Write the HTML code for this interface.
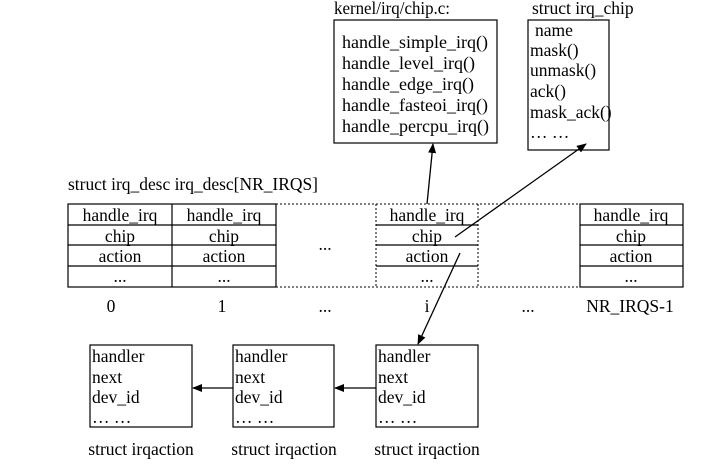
<!DOCTYPE html>
<html><head><style>
body{margin:0;background:#fff;}
svg text{font-family:"Liberation Serif",serif;font-size:17.5px;fill:#000;}
svg text.k{font-size:18px;}
</style></head><body>
<svg width="726" height="467" xmlns="http://www.w3.org/2000/svg">
<defs><marker id="a" markerWidth="10" markerHeight="8" refX="9" refY="4" orient="auto" markerUnits="userSpaceOnUse"><path d="M0,0 L10,4 L0,8 Z" fill="#000"/></marker></defs>
<g fill="none" stroke="#000" stroke-width="1.2">
<rect x="334" y="20" width="163" height="123"/>
<rect x="528" y="20" width="81" height="130"/>
<rect x="68" y="204" width="208" height="83"/>
<line x1="172" y1="204" x2="172" y2="287"/>
<line x1="68" y1="225" x2="276" y2="225"/><line x1="68" y1="245" x2="276" y2="245"/><line x1="68" y1="266" x2="276" y2="266"/>
<rect x="580" y="204" width="103" height="83"/>
<line x1="580" y1="225" x2="683" y2="225"/><line x1="580" y1="245" x2="683" y2="245"/><line x1="580" y1="266" x2="683" y2="266"/>
<line x1="376" y1="225" x2="478" y2="225"/><line x1="376" y1="245" x2="478" y2="245"/><line x1="376" y1="266" x2="478" y2="266"/>
<rect x="90" y="345" width="102" height="82"/>
<rect x="233" y="345" width="101" height="82"/>
<rect x="376" y="345" width="102" height="82"/>
</g>
<g fill="none" stroke="#000" stroke-width="1" stroke-dasharray="2,2">
<line x1="276" y1="204" x2="580" y2="204"/><line x1="276" y1="287" x2="580" y2="287"/>
<line x1="376" y1="204" x2="376" y2="287"/><line x1="478" y1="204" x2="478" y2="287"/>
</g>
<g stroke="#000" stroke-width="1.3" fill="none" marker-end="url(#a)">
<line x1="427" y1="204" x2="433" y2="144"/>
<line x1="455" y1="237" x2="586" y2="144"/>
<line x1="460" y1="253" x2="418" y2="344"/>
<line x1="376" y1="388" x2="335" y2="388"/>
<line x1="233" y1="388" x2="193" y2="388"/>
</g>
<text x="334" y="14" textLength="116" lengthAdjust="spacingAndGlyphs">kernel/irq/chip.c:</text>
<text x="532" y="14">struct irq_chip</text>
<text class="k" x="342" y="48">handle_simple_irq()</text>
<text class="k" x="342" y="69">handle_level_irq()</text>
<text class="k" x="342" y="90">handle_edge_irq()</text>
<text class="k" x="342" y="111">handle_fasteoi_irq()</text>
<text class="k" x="342" y="132">handle_percpu_irq()</text>
<text x="535" y="36">name</text>
<text x="530" y="56">mask()</text>
<text x="530" y="76">unmask()</text>
<text x="530" y="97">ack()</text>
<text x="530" y="118">mask_ack()</text>
<text x="530" y="138">… …</text>
<text x="68" y="190" textLength="250" lengthAdjust="spacingAndGlyphs">struct irq_desc irq_desc[NR_IRQS]</text>
<g text-anchor="middle">
<text x="120" y="221">handle_irq</text><text x="120" y="242">chip</text><text x="120" y="262">action</text><text x="120" y="282">...</text>
<text x="224" y="221">handle_irq</text><text x="224" y="242">chip</text><text x="224" y="262">action</text><text x="224" y="282">...</text>
<text x="427" y="221">handle_irq</text><text x="427" y="242">chip</text><text x="427" y="262">action</text><text x="427" y="282">...</text>
<text x="631" y="221">handle_irq</text><text x="631" y="242">chip</text><text x="631" y="262">action</text><text x="631" y="282">...</text>
<text x="325" y="250">...</text>
<text x="111" y="312">0</text><text x="222" y="312">1</text><text x="325" y="312">...</text><text x="427" y="312">i</text><text x="528" y="312">...</text><text x="630" y="312">NR_IRQS-1</text>
<text x="141" y="455">struct irqaction</text><text x="284" y="455">struct irqaction</text><text x="427" y="455">struct irqaction</text>
</g>
<g>
<text x="92" y="362">handler</text><text x="92" y="383">next</text><text x="92" y="403">dev_id</text><text x="92" y="423">… …</text>
<text x="235" y="362">handler</text><text x="235" y="383">next</text><text x="235" y="403">dev_id</text><text x="235" y="423">… …</text>
<text x="378" y="362">handler</text><text x="378" y="383">next</text><text x="378" y="403">dev_id</text><text x="378" y="423">… …</text>
</g>
</svg>
</body></html>
